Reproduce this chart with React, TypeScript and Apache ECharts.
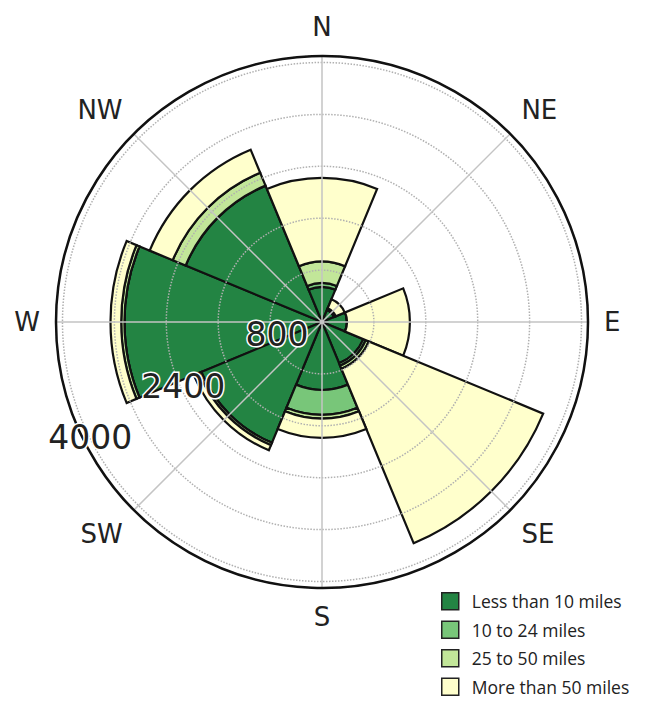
import React, { useEffect, useRef } from "react";
import * as echarts from "echarts";

const directions = ["W", "NW", "N", "NE", "E", "SE", "S", "SW"];
const seriesNames = ["Less than 10 miles", "10 to 24 miles", "25 to 50 miles", "More than 50 miles"];
const lessThan10 = [3045, 2275, 540, 200, 385, 690, 1045, 2015];
const from10to24 = [0, 0, 60, 0, 0, 40, 385, 0];
const from25to50 = [50, 215, 330, 30, 0, 50, 60, 40];
const moreThan50 = [165, 385, 1290, 150, 970, 2910, 295, 85];
const radiusTickLabels = ["800", "2400", "4000"];
const colors = ["#238443", "#78c679", "#c2e699", "#ffffcc"];

export default function App() {
  const ref = useRef<HTMLDivElement>(null);
  useEffect(() => {
    if (!ref.current) return;
    const chart = echarts.init(ref.current, null, { renderer: "svg" });
    const values = [lessThan10, from10to24, from25to50, moreThan50];
    const labelBase = {
      fontSize: 33,
      fontFamily: "DejaVu Sans",
      color: "#222",
      textBorderColor: "#ffffff",
      textBorderWidth: 3,
    };
    chart.setOption({
      animation: false,
      backgroundColor: "#ffffff",
      polar: { center: [322, 322], radius: 266 },
      angleAxis: {
        type: "category",
        data: directions,
        startAngle: 202.5,
        clockwise: true,
        z: 5,
        axisLine: { show: true, lineStyle: { color: "#111", width: 2.5 } },
        axisTick: { show: false, alignWithLabel: true },
        axisLabel: {
          show: true,
          margin: 16,
          fontSize: 26,
          fontFamily: "DejaVu Sans",
          color: "#222",
        },
        splitLine: { show: true, lineStyle: { color: "#c4c4c4", width: 1.5 } },
      },
      radiusAxis: {
        type: "value",
        min: 0,
        max: 4100,
        interval: 800,
        z: 5,
        axisLine: { show: false },
        axisTick: { show: false },
        axisLabel: {
          show: true,
          margin: 0,
          align: "center",
          verticalAlign: "middle",
          ...labelBase,
          formatter: (v: number) => {
            const s = String(v);
            const idx = radiusTickLabels.indexOf(s);
            if (idx < 0) return "";
            return "{l" + idx + "|" + s + "}";
          },
          rich: {
            l0: { ...labelBase, padding: [0, 0, 14, 6] },
            l1: { ...labelBase, padding: [10, 0, 0, 10] },
            l2: { ...labelBase, padding: [32, 0, 0, 16] },
          },
        },
        splitLine: { show: true, lineStyle: { color: "#b0b0b0", width: 1.5, type: "dotted" } },
      },
      legend: {
        orient: "vertical",
        left: 441,
        top: 592,
        height: 140,
        padding: 0,
        itemWidth: 17,
        itemHeight: 17,
        itemGap: 10,
        icon: "rect",
        data: seriesNames,
        itemStyle: { borderColor: "#222", borderWidth: 1.5 },
        textStyle: {
          fontSize: 17.5,
          lineHeight: 18,
          fontFamily: "Open Sans",
          color: "#222",
          padding: [0, 0, 0, 8],
        },
      },
      series: seriesNames.map((name, i) => ({
        name,
        type: "bar",
        coordinateSystem: "polar",
        stack: "wind",
        barCategoryGap: "0%",
        data: values[i],
        itemStyle: { color: colors[i], borderColor: "#111", borderWidth: 2.2 },
      })),
    });
    return () => chart.dispose();
  }, []);
  return (
    <div
      ref={ref}
      style={{ position: "absolute", left: 0, top: 0, width: 648, height: 701 }}
    />
  );
}
